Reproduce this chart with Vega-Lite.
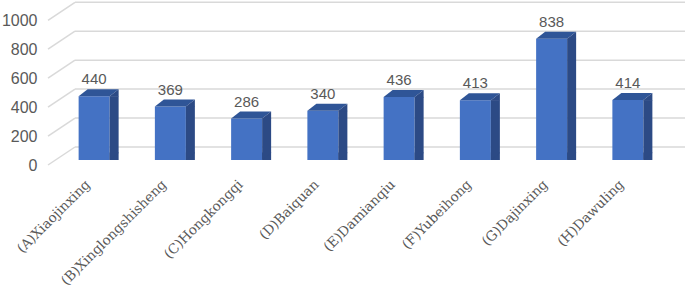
{
  "$schema": "https://vega.github.io/schema/vega-lite/v6.json",
  "width": 610,
  "height": 165,
  "autosize": "none",
  "padding": {"left": 75, "top": 0, "right": 0, "bottom": 125},
  "background": "white",
  "config": {
    "view": {"stroke": null},
    "axis": {"labelOverlap": false},
    "axisY": {"offset": 27, "domain": false, "ticks": false, "grid": false, "labelPadding": 11, "labelOverlap": false, "format": "d",
      "labelColor": "#595959", "labelFont": "Liberation Sans", "labelFontSize": 16, "title": null}
  },
  "datasets": {
    "bars": [
      {"name": "(A)Xiaojinxing", "value": 440},
      {"name": "(B)Xinglongshisheng", "value": 369},
      {"name": "(C)Hongkongqi", "value": 286},
      {"name": "(D)Baiquan", "value": 340},
      {"name": "(E)Damianqiu", "value": 436},
      {"name": "(F)Yubeihong", "value": 413},
      {"name": "(G)Dajinxing", "value": 838},
      {"name": "(H)Dawuling", "value": 414}
    ],
    "grid": [{"v": 0}, {"v": 200}, {"v": 400}, {"v": 600}, {"v": 800}, {"v": 1000}]
  },
  "layer": [
    {
      "data": {"name": "grid"},
      "mark": {"type": "rule", "color": "#d9d9d9", "strokeWidth": 1.5, "yOffset": -18},
      "encoding": {
        "y": {
          "field": "v", "type": "quantitative",
          "scale": {"domain": [0, 1140], "nice": false},
          "axis": {"values": [0, 200, 400, 600, 800, 1000], "format": "d", "labelOverlap": false, "title": null}
        }
      }
    },
    {
      "data": {"name": "grid"},
      "mark": {"type": "rule", "color": "#d9d9d9", "strokeWidth": 1.5, "yOffset": -18},
      "encoding": {
        "y": {"field": "v", "type": "quantitative", "axis": {"values": [0, 200, 400, 600, 800, 1000], "format": "d", "labelOverlap": false, "title": null}},
        "y2": {"field": "v"},
        "x": {"value": 0},
        "x2": {"value": -27}
      }
    },
    {
      "data": {"name": "bars"},
      "mark": {"type": "bar", "color": "#4472C4", "width": 31, "xOffset": -19, "yOffset": -5, "y2Offset": -5},
      "encoding": {
        "x": {
          "field": "name", "type": "nominal", "sort": null,
          "scale": {"paddingInner": 0.6, "paddingOuter": 0.3},
          "axis": {
            "orient": "bottom", "labelAngle": -45, "labelAlign": "right", "labelBaseline": "middle",
            "labelOffset": -25, "labelPadding": 17, "domain": false, "ticks": false, "title": null,
            "labelOverlap": false, "labelFont": "DejaVu Serif", "labelFontSize": 13.5, "labelColor": "#595959"
          }
        },
        "y": {"field": "value", "type": "quantitative", "axis": {"values": [0, 200, 400, 600, 800, 1000], "format": "d", "labelOverlap": false, "title": null}}
      }
    },
    {
      "data": {"name": "bars"},
      "mark": {"type": "bar", "color": "#2c4a85", "width": 9, "xOffset": 1, "yOffset": -5, "y2Offset": -12},
      "encoding": {
        "x": {"field": "name", "type": "nominal", "sort": null},
        "y": {"field": "value", "type": "quantitative", "axis": {"values": [0, 200, 400, 600, 800, 1000], "format": "d", "labelOverlap": false, "title": null}}
      }
    },
    {
      "data": {"name": "bars"},
      "mark": {"type": "point", "filled": true, "opacity": 1, "size": 4, "strokeWidth": 0, "color": "#2f5597", "xOffset": -19, "yOffset": -5,
        "shape": "M-15.5,0 L15.5,0 L24.5,-7 L-6.5,-7 Z"},
      "encoding": {
        "x": {"field": "name", "type": "nominal", "sort": null},
        "y": {"field": "value", "type": "quantitative", "axis": {"values": [0, 200, 400, 600, 800, 1000], "format": "d", "labelOverlap": false, "title": null}}
      }
    },
    {
      "data": {"name": "bars"},
      "mark": {"type": "point", "filled": true, "opacity": 1, "size": 4, "strokeWidth": 0, "color": "#2c4a85", "xOffset": -19, "yOffset": -5,
        "shape": "M15.5,0 L24.5,-7 L24.5,0.5 L15.5,0.5 Z"},
      "encoding": {
        "x": {"field": "name", "type": "nominal", "sort": null},
        "y": {"field": "value", "type": "quantitative", "axis": {"values": [0, 200, 400, 600, 800, 1000], "format": "d", "labelOverlap": false, "title": null}}
      }
    },
    {
      "data": {"name": "bars"},
      "mark": {"type": "point", "filled": true, "opacity": 1, "size": 4, "strokeWidth": 0, "color": "#2c4a85", "xOffset": -19, "yOffset": -5,
        "shape": "M15.5,-7.5 L15.5,0 L24.5,-7 L24.5,-7.5 Z"},
      "encoding": {
        "x": {"field": "name", "type": "nominal", "sort": null},
        "y": {"datum": 0, "type": "quantitative", "axis": {"values": [0, 200, 400, 600, 800, 1000], "format": "d", "labelOverlap": false, "title": null}}
      }
    },
    {
      "data": {"name": "bars"},
      "mark": {"type": "text", "color": "#595959", "font": "Liberation Sans", "fontSize": 15, "baseline": "alphabetic", "align": "center", "xOffset": -19, "yOffset": -17},
      "encoding": {
        "x": {"field": "name", "type": "nominal", "sort": null},
        "y": {"field": "value", "type": "quantitative", "axis": {"values": [0, 200, 400, 600, 800, 1000], "format": "d", "labelOverlap": false, "title": null}},
        "text": {"field": "value", "type": "quantitative"}
      }
    }
  ]
}
